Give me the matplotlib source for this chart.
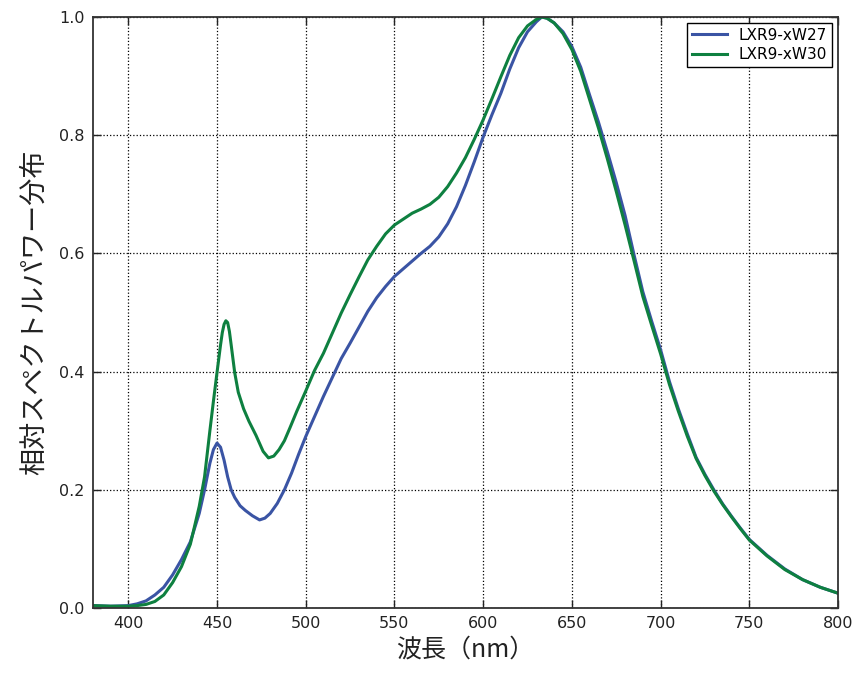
import matplotlib
matplotlib.use('Agg')
import matplotlib.pyplot as plt

# spectral power distribution
wl_27 = [380, 390, 400, 405, 410, 415, 420, 425, 430, 435, 440, 443, 446, 448,
         450, 452, 454, 456, 458, 460, 463, 466, 470, 474, 477, 480, 484, 488,
         492, 496, 500, 505, 510, 515, 520, 525, 530, 535, 540, 545, 550, 555,
         560, 565, 570, 575, 580, 585, 590, 595, 600, 605, 610, 615, 620, 625,
         630, 633, 636, 640, 645, 650, 655, 660, 665, 670, 675, 680, 685, 690,
         695, 700, 705, 710, 715, 720, 725, 730, 735, 740, 745, 750, 760, 770,
         780, 790, 800]
spd_27 = [0.004, 0.003, 0.004, 0.007, 0.012, 0.022, 0.035, 0.056, 0.082, 0.112,
          0.160, 0.200, 0.245, 0.268, 0.279, 0.272, 0.250, 0.222, 0.200, 0.187,
          0.173, 0.165, 0.156, 0.149, 0.152, 0.160, 0.177, 0.200, 0.228, 0.260,
          0.290, 0.324, 0.358, 0.390, 0.422, 0.448, 0.475, 0.502, 0.525, 0.544,
          0.561, 0.574, 0.587, 0.600, 0.612, 0.628, 0.650, 0.679, 0.715, 0.755,
          0.797, 0.835, 0.871, 0.912, 0.948, 0.975, 0.992, 1.000, 0.998, 0.990,
          0.975, 0.950, 0.915, 0.868, 0.822, 0.772, 0.720, 0.664, 0.598, 0.535,
          0.485, 0.437, 0.383, 0.337, 0.295, 0.255, 0.226, 0.200, 0.176, 0.155,
          0.135, 0.116, 0.089, 0.066, 0.048, 0.035, 0.025]

wl_30 = [380, 390, 400, 405, 410, 415, 420, 425, 430, 435, 440, 443, 446, 448,
         450, 452, 453, 454, 455, 456, 457, 458, 460, 462, 465, 468, 472, 476,
         479, 482, 485, 488, 491, 495, 500, 505, 510, 515, 520, 525, 530, 535,
         540, 545, 550, 555, 560, 565, 570, 575, 580, 585, 590, 595, 600, 605,
         610, 615, 620, 625, 630, 633, 636, 640, 645, 650, 655, 660, 665, 670,
         675, 680, 685, 690, 695, 700, 705, 710, 715, 720, 725, 730, 735, 740,
         745, 750, 760, 770, 780, 790, 800]
spd_30 = [0.004, 0.003, 0.003, 0.004, 0.006, 0.011, 0.022, 0.043, 0.070, 0.108,
          0.172, 0.222, 0.300, 0.350, 0.398, 0.445, 0.466, 0.480, 0.486, 0.483,
          0.468, 0.445, 0.398, 0.365, 0.337, 0.316, 0.292, 0.265, 0.254, 0.257,
          0.268, 0.283, 0.304, 0.333, 0.367, 0.402, 0.431, 0.465, 0.499, 0.530,
          0.560, 0.589, 0.612, 0.633, 0.648, 0.658, 0.668, 0.675, 0.683, 0.695,
          0.713, 0.736, 0.762, 0.793, 0.826, 0.862, 0.899, 0.935, 0.965, 0.985,
          0.996, 1.000, 0.998, 0.990, 0.972, 0.945, 0.908, 0.860, 0.812, 0.760,
          0.705, 0.648, 0.588, 0.527, 0.478, 0.430, 0.378, 0.333, 0.291, 0.253,
          0.224, 0.198, 0.175, 0.154, 0.134, 0.115, 0.088, 0.065, 0.048, 0.035,
          0.025]

xticks = [400, 450, 500, 550, 600, 650, 700, 750, 800]
yticks = [0.0, 0.2, 0.4, 0.6, 0.8, 1.0]

cjk = ['Noto Sans CJK JP', 'DejaVu Sans']

fig = plt.figure(figsize=(8.59, 6.75), dpi=100)
ax = fig.add_axes([0.108, 0.0993, 0.8676, 0.8755])

ax.plot(wl_27, spd_27, color='#3a54a4', lw=2.2, label='LXR9-xW27')
ax.plot(wl_30, spd_30, color='#0e8040', lw=2.2, label='LXR9-xW30')

ax.set_xlim(380, 800)
ax.set_ylim(0, 1.0)
ax.set_xticks(xticks)
ax.set_yticks(yticks)
ax.set_yticklabels(['%.1f' % v for v in yticks])
ax.tick_params(direction='in', top=True, right=True, length=6, width=1,
               labelsize=11.5, colors='#222222', pad=6)
ax.grid(True, linestyle=':', color='black', linewidth=0.9)
for s in ax.spines.values():
    s.set_linewidth(1.3)
    s.set_color('#333333')

ax.set_xlabel('波長（nm）', family=cjk, fontsize=18, color='#222222', labelpad=4)
ax.set_ylabel('相対スペクトルパワー分布', family=cjk, fontsize=19.5, color='#222222',
              labelpad=8)

leg = ax.legend(loc='upper right', fontsize=11, fancybox=False, framealpha=1,
                edgecolor='black', handlelength=2.3, borderaxespad=0.4,
                borderpad=0.3, labelspacing=0.3)
leg.get_frame().set_linewidth(1.0)

fig.savefig('out.png', dpi=100)
